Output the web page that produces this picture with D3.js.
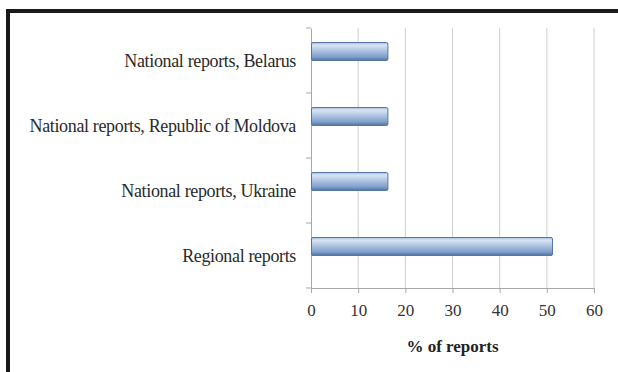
<!DOCTYPE html>
<html><head><meta charset="utf-8">
<script src="https://cdn.jsdelivr.net/npm/d3@7"></script>
<style>html,body{margin:0;padding:0;background:#fff;}svg{display:block;}
svg text{font-family:"Liberation Serif","Times New Roman","DejaVu Serif",serif;}</style>
</head><body>
<script>
const categories = ["National reports, Belarus","National reports, Republic of Moldova","National reports, Ukraine","Regional reports"];
const values = [16.2, 16.2, 16.2, 51.1];
const xTicks = [0,10,20,30,40,50,60];
const xTitle = "% of reports";

(function(){
const W=618,H=372;
const FF='"Liberation Serif","Times New Roman",serif';
const svg=d3.select("body").append("svg").attr("width",W).attr("height",H);
const defs=svg.append("defs");
const g=defs.append("linearGradient").attr("id","bg").attr("x1",0).attr("y1",0).attr("x2",0).attr("y2",1);
[[0,"#a3bcdd"],[0.15,"#d9e4f2"],[0.45,"#aec4e2"],[0.8,"#809fcc"],[1,"#4f71a1"]].forEach(([o,c])=>g.append("stop").attr("offset",o).attr("stop-color",c));

svg.append("path").attr("d",`M8,${H} L8,11 L${W},11`).attr("fill","none").attr("stroke","#1a1a1a").attr("stroke-width",4);

const pl=311,pr=594,pt=28,pb=288;
const x=d3.scaleLinear().domain([0,60]).range([pl,pr]);
const y=d3.scaleBand().domain(categories).range([pt,pb]);

svg.append("g").selectAll("line").data(xTicks.slice(1)).join("line")
 .attr("x1",d=>x(d)).attr("x2",d=>x(d)).attr("y1",pt).attr("y2",pb)
 .attr("stroke","#cfcfcf").attr("stroke-width",1);

const xa=svg.append("g").attr("transform",`translate(0,${pb})`)
 .call(d3.axisBottom(x).tickValues(xTicks).tickSize(5).tickPadding(11));
xa.attr("font-family",null);
xa.select(".domain").attr("stroke","#a8a8a8");
xa.selectAll(".tick line").attr("stroke","#a8a8a8");
xa.selectAll("text").style("font-family",FF).attr("font-size",17).attr("fill","#333");

const ya=svg.append("g").attr("transform",`translate(${pl},0)`)
 .call(d3.axisLeft(y).tickSize(0).tickPadding(15));
ya.attr("font-family",null);
ya.select(".domain").attr("stroke","#a8a8a8");
ya.selectAll("text").style("font-family",FF).attr("font-size",18).attr("fill","#2a2a2a").attr("letter-spacing","-0.35px").attr("dy","0.36em");
svg.append("g").selectAll("line").data(categories.concat([null])).join("line")
 .attr("x1",pl-5).attr("x2",pl)
 .attr("y1",(d,i)=>pt+i*y.step()).attr("y2",(d,i)=>pt+i*y.step())
 .attr("stroke","#a8a8a8");

const bh=18, off=-9;
svg.append("g").selectAll("rect").data(values).join("rect")
 .attr("x",pl+0.5).attr("y",(d,i)=>y(categories[i])+y.bandwidth()/2-bh/2+off)
 .attr("width",d=>x(d)-pl).attr("height",bh)
 .attr("fill","url(#bg)").attr("stroke","#5577a6").attr("stroke-width",1).attr("rx",1.5);

svg.append("text").attr("x",(pl+pr)/2).attr("y",352).attr("text-anchor","middle")
 .style("font-family",FF).attr("font-weight","bold").attr("font-size",17).attr("fill","#222").text(xTitle);
})();
</script>
</body></html>
